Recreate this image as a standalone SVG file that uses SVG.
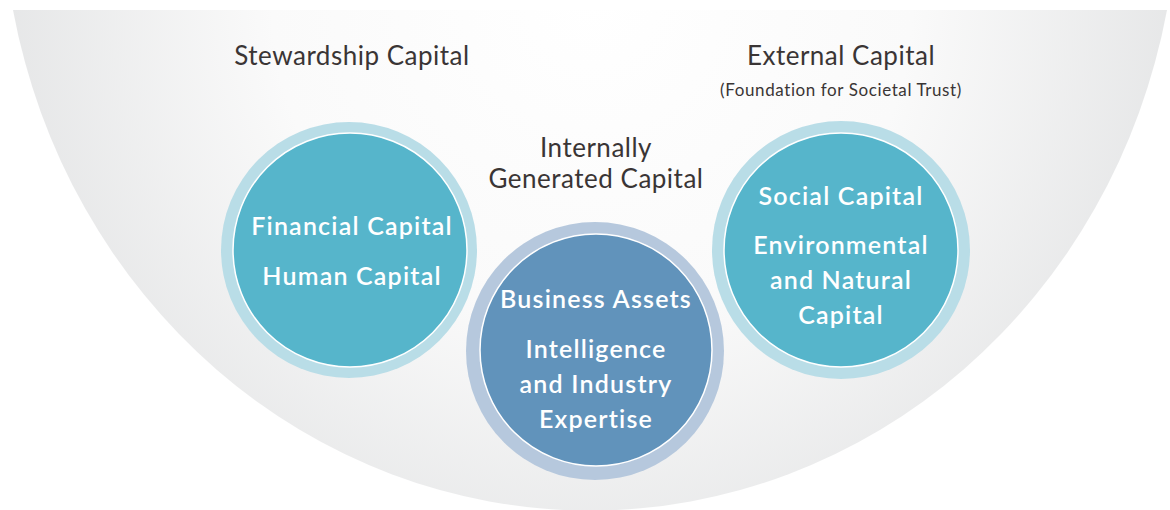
<svg xmlns="http://www.w3.org/2000/svg" width="1170" height="510" viewBox="0 0 1170 510">
<defs>
<radialGradient id="bowl" gradientUnits="userSpaceOnUse" cx="592" cy="0" r="640">
<stop offset="0" stop-color="#ffffff"/>
<stop offset="0.5" stop-color="#fafafa"/>
<stop offset="1" stop-color="#e2e3e4"/>
</radialGradient>
<style>
.lbl{font-family:Lato,"Noto Sans",sans-serif;fill:#3a3535;text-anchor:middle;letter-spacing:0.5px}
.in{font-family:Lato,"Noto Sans",sans-serif;fill:#ffffff;text-anchor:middle;font-weight:600;font-size:25px;letter-spacing:1.2px}
.ringT{fill:#b9dde7}
.coreT{fill:#56b5cb;stroke:#ffffff;stroke-width:1.5}
.ringB{fill:#b6c8dd}
.coreB{fill:#6193bb;stroke:#ffffff;stroke-width:1.5}
</style>
</defs>
<path d="M13,10 L1167,10 A588,620 0 0 1 13,10 Z" fill="url(#bowl)"/>
<g id="labels">
<text class="lbl" x="352" y="65" font-size="26">Stewardship Capital</text>
<text class="lbl" x="841" y="65" font-size="26">External Capital</text>
<text class="lbl" x="841" y="96" font-size="17" style="letter-spacing:0.6px">(Foundation for Societal Trust)</text>
<text class="lbl" x="596" y="157" font-size="26">Internally</text>
<text class="lbl" x="596" y="188" font-size="26">Generated Capital</text>
</g>
<g id="stewardship">
<circle class="ringT" cx="349" cy="250" r="128"/>
<circle class="coreT" cx="350" cy="250" r="117"/>
<text class="in" x="352" y="235">Financial Capital</text>
<text class="in" x="352" y="285">Human Capital</text>
</g>
<g id="external">
<circle class="ringT" cx="841" cy="250" r="129"/>
<circle class="coreT" cx="841" cy="250" r="117"/>
<text class="in" x="841" y="205">Social Capital</text>
<text class="in" x="841" y="254">Environmental</text>
<text class="in" x="841" y="289">and Natural</text>
<text class="in" x="841" y="324">Capital</text>
</g>
<g id="internal">
<circle class="ringB" cx="595" cy="351" r="129"/>
<circle class="coreB" cx="596" cy="350" r="116"/>
<text class="in" x="596" y="308">Business Assets</text>
<text class="in" x="596" y="358">Intelligence</text>
<text class="in" x="596" y="393">and Industry</text>
<text class="in" x="596" y="428">Expertise</text>
</g>
<g id="connectors"/>
</svg>
